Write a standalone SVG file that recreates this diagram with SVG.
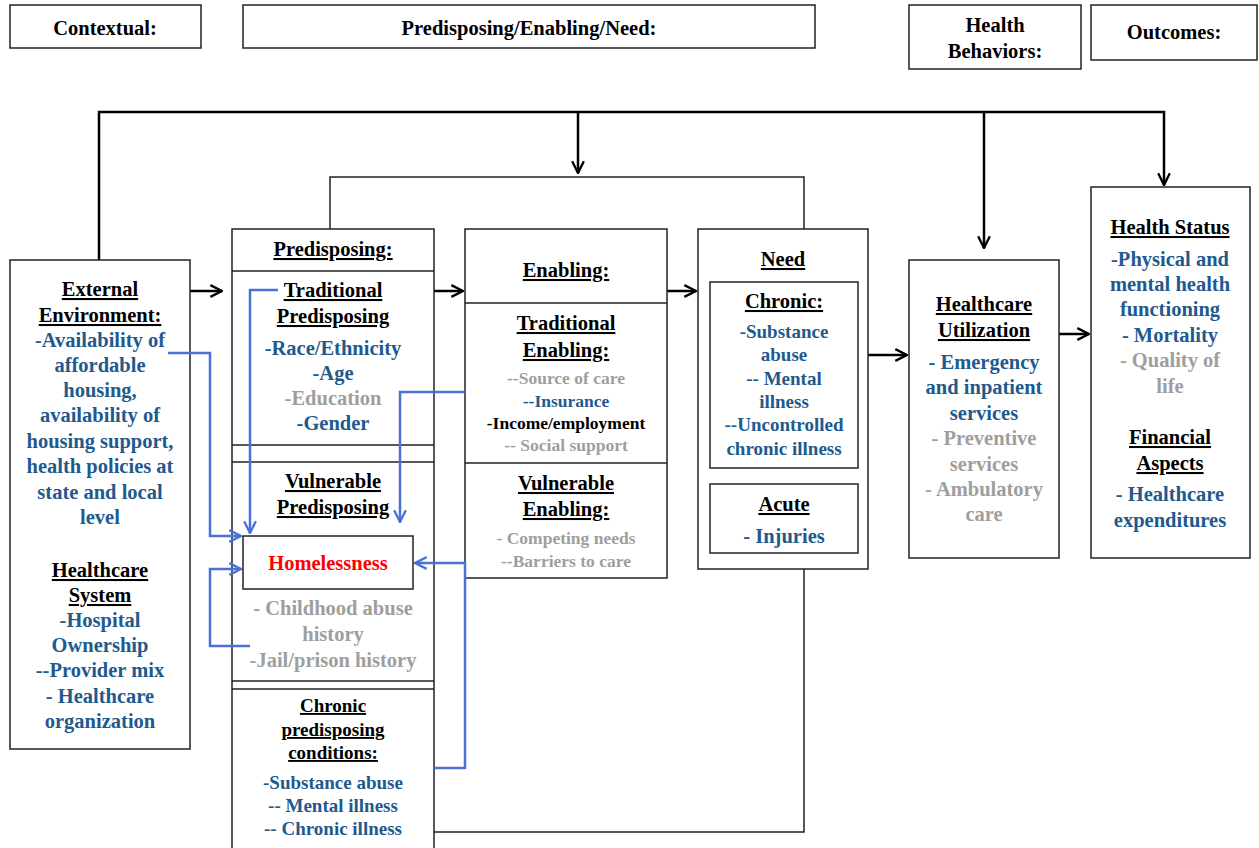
<svg xmlns="http://www.w3.org/2000/svg" width="1259" height="848" viewBox="0 0 1259 848">
<style>
.t{font-family:"Liberation Serif","Times New Roman",serif;font-weight:bold;text-anchor:middle;font-size:20.5px;fill:#000}
.u{text-decoration:underline}
.b{fill:#1F5A8E}
.g{fill:#9E9E9E}
.r{fill:#FF0000}
.s{font-size:17.5px}
.m{font-size:19px}
.box{fill:#fff;stroke:#222;stroke-width:1.5}
.ln{stroke:#222;stroke-width:1.5;fill:none}
.con{stroke:#000;stroke-width:2.5;fill:none}
.blue{stroke:#4A72D6;stroke-width:2.5;fill:none}
</style>
<defs>
<marker id="ah" viewBox="0 0 12 12" refX="11" refY="6" markerWidth="14" markerHeight="14" markerUnits="userSpaceOnUse" orient="auto">
<path d="M1,1 L11,6 L1,11" fill="none" stroke="#000" stroke-width="2"/>
</marker>
<marker id="bh" viewBox="0 0 12 12" refX="11" refY="6" markerWidth="14" markerHeight="14" markerUnits="userSpaceOnUse" orient="auto">
<path d="M1,1 L11,6 L1,11" fill="none" stroke="#4A72D6" stroke-width="2"/>
</marker>
</defs>
<rect width="1259" height="848" fill="#fff"/>

<g id="headers">
<rect class="box" x="10" y="5" width="191" height="43"/>
<text class="t" x="105" y="35">Contextual:</text>
<rect class="box" x="243" y="5" width="572" height="43"/>
<text class="t" x="529" y="35">Predisposing/Enabling/Need:</text>
<rect class="box" x="909" y="5" width="172" height="64"/>
<text class="t" x="995" y="32">Health</text>
<text class="t" x="995" y="58">Behaviors:</text>
<rect class="box" x="1091" y="5" width="166" height="55"/>
<text class="t" x="1174" y="39">Outcomes:</text>
</g>

<g id="connectors">
<path class="con" d="M99,260 V112 H1164 V185" marker-end="url(#ah)"/>
<path class="con" d="M578,112 V173" marker-end="url(#ah)"/>
<path class="con" d="M984,112 V248" marker-end="url(#ah)"/>
<path class="ln" d="M330,229 V177 H804 V229"/>
<path class="con" d="M190,291 H222" marker-end="url(#ah)"/>
<path class="con" d="M434,291 H463" marker-end="url(#ah)"/>
<path class="con" d="M667,291 H696" marker-end="url(#ah)"/>
<path class="con" d="M868,355 H907" marker-end="url(#ah)"/>
<path class="con" d="M1059,334 H1089" marker-end="url(#ah)"/>
<path class="ln" d="M804,569 V832 H434"/>
</g>

<g id="external">
<rect class="box" x="10" y="260" width="180" height="489"/>
<text class="t u" x="100" y="296">External</text>
<text class="t u" x="100" y="322">Environment:</text>
<text class="t b" x="100" y="347">-Availability of</text>
<text class="t b" x="100" y="372">affordable</text>
<text class="t b" x="100" y="397">housing,</text>
<text class="t b" x="100" y="422">availability of</text>
<text class="t b" x="100" y="448">housing support,</text>
<text class="t b" x="100" y="473">health policies at</text>
<text class="t b" x="100" y="499">state and local</text>
<text class="t b" x="100" y="524">level</text>
<text class="t u" x="100" y="577">Healthcare</text>
<text class="t u" x="100" y="602">System</text>
<text class="t b" x="100" y="627">-Hospital</text>
<text class="t b" x="100" y="652">Ownership</text>
<text class="t b" x="100" y="677">--Provider mix</text>
<text class="t b" x="100" y="703">- Healthcare</text>
<text class="t b" x="100" y="728">organization</text>
</g>

<g id="predisposing">
<rect class="box" x="232" y="229" width="202" height="630"/>
<path class="ln" d="M232,271 H434 M232,445 H434 M232,462 H434 M232,681 H434 M232,689 H434"/>
<text class="t u" x="333" y="256">Predisposing:</text>
<text class="t u" x="333" y="297">Traditional</text>
<text class="t u" x="333" y="323">Predisposing</text>
<text class="t b" x="333" y="355">-Race/Ethnicity</text>
<text class="t b" x="333" y="380">-Age</text>
<text class="t g" x="333" y="405">-Education</text>
<text class="t b" x="333" y="430">-Gender</text>
<text class="t u" x="333" y="488">Vulnerable</text>
<text class="t u" x="333" y="514">Predisposing</text>
<g id="homelessness">
<rect class="box" x="243" y="536" width="170" height="53"/>
<text class="t r" x="328" y="570">Homelessness</text>
</g>
<text class="t g" x="333" y="615">- Childhood abuse</text>
<text class="t g" x="333" y="641">history</text>
<text class="t g" x="333" y="667">-Jail/prison history</text>
<text class="t m u" x="333" y="712">Chronic</text>
<text class="t m u" x="333" y="736">predisposing</text>
<text class="t m u" x="333" y="759">conditions:</text>
<text class="t m b" x="333" y="789">-Substance abuse</text>
<text class="t m b" x="333" y="812">-- Mental illness</text>
<text class="t m b" x="333" y="835">-- Chronic illness</text>
</g>

<g id="enabling">
<rect class="box" x="465" y="229" width="202" height="349"/>
<path class="ln" d="M465,303 H667 M465,463 H667"/>
<text class="t u" x="566" y="277">Enabling:</text>
<text class="t u" x="566" y="330">Traditional</text>
<text class="t u" x="566" y="357">Enabling:</text>
<text class="t s g" x="566" y="384">--Source of care</text>
<text class="t s b" x="566" y="407">--Insurance</text>
<text class="t s" x="566" y="429">-Income/employment</text>
<text class="t s g" x="566" y="451">-- Social support</text>
<text class="t u" x="566" y="490">Vulnerable</text>
<text class="t u" x="566" y="516">Enabling:</text>
<text class="t s g" x="566" y="544">- Competing needs</text>
<text class="t s g" x="566" y="567">--Barriers to care</text>
</g>

<g id="need">
<rect class="box" x="698" y="229" width="170" height="340"/>
<text class="t u" x="783" y="266">Need</text>
<rect class="box" x="710" y="282" width="148" height="186"/>
<text class="t u" x="784" y="308">Chronic:</text>
<text class="t m b" x="784" y="338">-Substance</text>
<text class="t m b" x="784" y="361">abuse</text>
<text class="t m b" x="784" y="385">-- Mental</text>
<text class="t m b" x="784" y="408">illness</text>
<text class="t m b" x="784" y="431">--Uncontrolled</text>
<text class="t m b" x="784" y="455">chronic illness</text>
<rect class="box" x="710" y="484" width="148" height="69"/>
<text class="t u" x="784" y="511">Acute</text>
<text class="t b" x="784" y="543">- Injuries</text>
</g>

<g id="utilization">
<rect class="box" x="909" y="260" width="150" height="298"/>
<text class="t u" x="984" y="311">Healthcare</text>
<text class="t u" x="984" y="337">Utilization</text>
<text class="t b" x="984" y="369">- Emergency</text>
<text class="t b" x="984" y="394">and inpatient</text>
<text class="t b" x="984" y="420">services</text>
<text class="t g" x="984" y="445">- Preventive</text>
<text class="t g" x="984" y="471">services</text>
<text class="t g" x="984" y="496">- Ambulatory</text>
<text class="t g" x="984" y="521">care</text>
</g>

<g id="health-status">
<rect class="box" x="1091" y="187" width="159" height="371"/>
<text class="t u" x="1170" y="234">Health Status</text>
<text class="t b" x="1170" y="266">-Physical and</text>
<text class="t b" x="1170" y="291">mental health</text>
<text class="t b" x="1170" y="316">functioning</text>
<text class="t b" x="1170" y="342">- Mortality</text>
<text class="t g" x="1170" y="367">- Quality of</text>
<text class="t g" x="1170" y="393">life</text>
<text class="t u" x="1170" y="444">Financial</text>
<text class="t u" x="1170" y="470">Aspects</text>
<text class="t b" x="1170" y="501">- Healthcare</text>
<text class="t b" x="1170" y="527">expenditures</text>
</g>

<g id="blue-connectors">
<path class="blue" d="M168,353 H210 V536 H241" marker-end="url(#bh)"/>
<path class="blue" d="M278,290 H250 V533" marker-end="url(#bh)"/>
<path class="blue" d="M465,392 H400 V522" marker-end="url(#bh)"/>
<path class="blue" d="M250,646 H210 V569 H241" marker-end="url(#bh)"/>
<path class="blue" d="M434,768 H465 V563 H415" marker-end="url(#bh)"/>
</g>
</svg>
